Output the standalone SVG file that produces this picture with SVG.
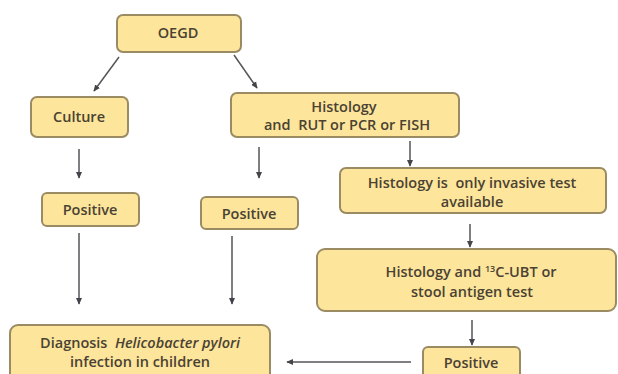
<svg xmlns="http://www.w3.org/2000/svg" width="618" height="374" viewBox="0 0 618 374">
<defs>
<style>
.box{fill:#FDE59C;stroke:#9A8B62;stroke-width:2}
.t{font-family:"Open Sans","Liberation Sans",sans-serif;font-size:14.5px;fill:#4A4232;text-anchor:middle;font-weight:600;white-space:pre}
.c{stroke:#55555A;stroke-width:1.5;fill:none;marker-end:url(#ah)}
</style>
<marker id="ah" viewBox="0 0 10 10" refX="8" refY="5" markerWidth="5" markerHeight="5" orient="auto"><path d="M0,1 L9,5 L0,9 Z" fill="#44444A"/></marker>
</defs>
<rect width="618" height="374" fill="#ffffff"/>
<g id="connectors">
<line class="c" x1="119" y1="57" x2="94" y2="91"/>
<line class="c" x1="234" y1="55" x2="257" y2="88"/>
<line class="c" x1="79" y1="149" x2="79" y2="178"/>
<line class="c" x1="259" y1="147" x2="259" y2="178"/>
<line class="c" x1="410" y1="141" x2="410" y2="166"/>
<line class="c" x1="79" y1="233" x2="79" y2="304"/>
<line class="c" x1="232" y1="236" x2="232" y2="304"/>
<line class="c" x1="470" y1="224" x2="470" y2="247"/>
<line class="c" x1="472" y1="320" x2="472" y2="345"/>
<line class="c" x1="411" y1="362" x2="287" y2="362"/>
</g>
<g id="oegd"><rect class="box" x="117" y="15" width="124" height="37" rx="6"/><text class="t" x="178" y="38">OEGD</text></g>
<g id="culture"><rect class="box" x="31" y="97" width="97" height="40" rx="6"/><text class="t" x="79" y="122">Culture</text></g>
<g id="histology"><rect class="box" x="231" y="93" width="228" height="44" rx="6"/><text class="t" x="344" y="112">Histology</text><text class="t" x="347" y="130" xml:space="preserve">and  RUT or PCR or FISH</text></g>
<g id="positive1"><rect class="box" x="42" y="193" width="97" height="33" rx="5"/><text class="t" x="90" y="215">Positive</text></g>
<g id="positive2"><rect class="box" x="201" y="197" width="97" height="32" rx="5"/><text class="t" x="249" y="219">Positive</text></g>
<g id="histology-only"><rect class="box" x="340" y="168" width="266" height="45" rx="6"/><text class="t" x="472" y="188" xml:space="preserve">Histology is  only invasive test</text><text class="t" x="472" y="207">available</text></g>
<g id="histology-ubt"><rect class="box" x="317" y="249" width="299" height="62" rx="8"/><text class="t" x="471" y="277">Histology and <tspan font-size="9" dy="-5">13</tspan><tspan dy="5">C-UBT or</tspan></text><text class="t" x="472" y="297">stool antigen test</text></g>
<g id="positive3"><rect class="box" x="423" y="347" width="97" height="34" rx="5"/><text class="t" x="471" y="368">Positive</text></g>
<g id="diagnosis"><rect class="box" x="10" y="325" width="260" height="56" rx="8"/><text class="t" x="140" y="348" xml:space="preserve">Diagnosis  <tspan font-style="italic">Helicobacter pylori</tspan></text><text class="t" x="140" y="367">infection in children</text></g>
</svg>
